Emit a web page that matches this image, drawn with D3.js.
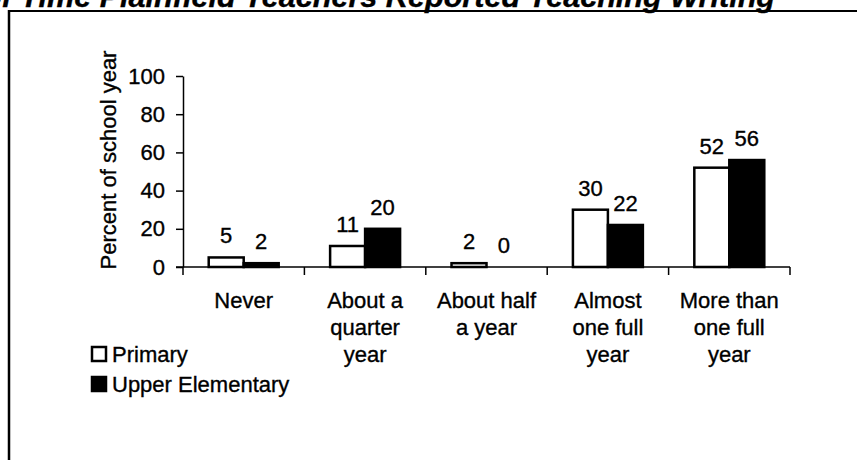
<!DOCTYPE html>
<html><head><meta charset="utf-8">
<script src="https://cdn.jsdelivr.net/npm/d3@7/dist/d3.min.js"></script>
<style>
html,body{margin:0;padding:0;background:#fff;}
svg{display:block;}
text{font-family:Arial,"Liberation Sans",sans-serif;fill:#000;stroke:#000;stroke-width:0.35px;}
</style></head>
<body>
<script>
const categories = [["Never"],["About a","quarter","year"],["About half","a year"],["Almost","one full","year"],["More than","one full","year"]];
const categoryKeys = ["Never","About a quarter year","About half a year","Almost one full year","More than one full year"];
const series = ["Primary","Upper Elementary"];
const primary = [5,11,2,30,52];
const upper = [2,20,0,22,56];
const yTicks = [0,20,40,60,80,100];
const title = "of Time Plainfield Teachers Reported Teaching Writing";
const yTitle = "Percent of school year";

const W=857,H=460;
const svg=d3.select("body").append("svg").attr("width",W).attr("height",H);

// frame
svg.append("line").attr("x1",9).attr("x2",W).attr("y1",11).attr("y2",11).attr("stroke","#000").attr("stroke-width",2);
svg.append("line").attr("x1",9).attr("x2",9).attr("y1",10).attr("y2",H).attr("stroke","#000").attr("stroke-width",2.5);

// title (cut off at top, as in the source)
svg.append("text").attr("x",-17).attr("y",7).attr("textLength",792).attr("lengthAdjust","spacingAndGlyphs")
  .style("font-size","30px").style("font-weight","bold").style("font-style","italic").text(title);

const y=d3.scaleLinear().domain([0,100]).range([267,76]);
const x=d3.scaleBand().domain(categoryKeys).range([183,790]).paddingInner(0).paddingOuter(0);
const xs=d3.scaleBand().domain(series).range([0,x.bandwidth()]).paddingInner(0).paddingOuter(0.735);

const FS="22px";

// y axis
const ya=svg.append("g").attr("transform","translate(183,0)")
  .call(d3.axisLeft(y).tickValues(yTicks).tickSize(7).tickSizeOuter(0).tickPadding(11));
ya.select(".domain").attr("stroke","#000").attr("stroke-width",1.5);
ya.selectAll(".tick line").attr("stroke","#000").attr("stroke-width",1.5);
ya.selectAll(".tick text").style("font-size",FS).attr("font-family",null).attr("fill","#000");

svg.append("text").attr("transform","translate(116,160) rotate(-90)").attr("text-anchor","middle")
  .style("font-size",FS).text(yTitle);

// x axis
svg.append("line").attr("x1",176).attr("x2",x.range()[1]).attr("y1",y(0)).attr("y2",y(0)).attr("stroke","#000").attr("stroke-width",1.5);
const bounds=categoryKeys.map(c=>x(c)).concat([x.range()[1]]);
svg.selectAll(".xt").data(bounds).enter().append("line")
  .attr("x1",d=>d).attr("x2",d=>d).attr("y1",y(0)).attr("y2",y(0)+8).attr("stroke","#000").attr("stroke-width",1.5);

// bars
const data=[];
categoryKeys.forEach((c,i)=>{
  data.push({c,s:series[0],v:primary[i]});
  data.push({c,s:series[1],v:upper[i]});
});
const fill={"Primary":"#fff","Upper Elementary":"#000"};
svg.selectAll(".bar").data(data.filter(d=>d.v>0)).enter().append("rect")
  .attr("x",d=>x(d.c)+xs(d.s)).attr("width",xs.bandwidth())
  .attr("y",d=>y(d.v)).attr("height",d=>y(0)-y(d.v))
  .attr("fill",d=>fill[d.s]).attr("stroke","#000").attr("stroke-width",2.5);

svg.selectAll(".val").data(data).enter().append("text")
  .attr("x",d=>x(d.c)+xs(d.s)+xs.bandwidth()/2).attr("y",d=>y(d.v)-14)
  .attr("text-anchor","middle").style("font-size",FS).text(d=>d.v);

// category labels
categories.forEach((lines,i)=>{
  const cx=x(categoryKeys[i])+x.bandwidth()/2;
  lines.forEach((l,j)=>{
    svg.append("text").attr("x",cx).attr("y",308+j*27).attr("text-anchor","middle").style("font-size",FS).text(l);
  });
});

// legend
series.forEach((s,i)=>{
  const ly=347+i*30;
  svg.append("rect").attr("x",92).attr("y",ly).attr("width",14).attr("height",14)
    .attr("fill",fill[s]).attr("stroke","#000").attr("stroke-width",2.5);
  svg.append("text").attr("x",112).attr("y",ly+15).style("font-size",FS).text(s);
});
</script>
</body></html>
